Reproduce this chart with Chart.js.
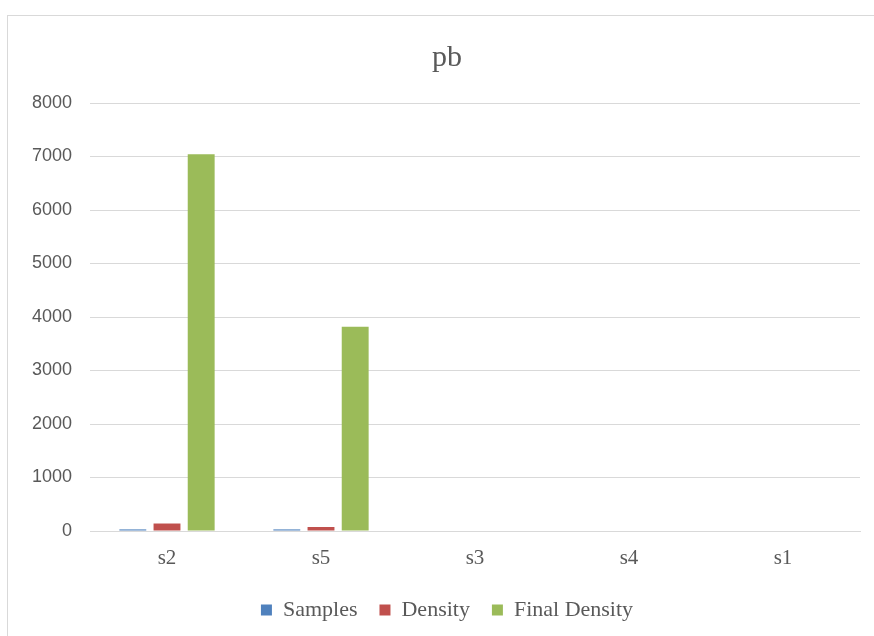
<!DOCTYPE html>
<html>
<head>
<meta charset="utf-8">
<script src="https://cdn.jsdelivr.net/npm/chart.js@4.4.1/dist/chart.umd.min.js"></script>
<style>
  html, body { margin: 0; padding: 0; overflow: hidden; background: #ffffff; }
  #frame {
    position: absolute; left: 7px; top: 15px; width: 900px; height: 640px;
    border: 1px solid #d9d9d9; box-sizing: border-box;
  }
  #chart { position: absolute; left: 0; top: 0; }
</style>
</head>
<body>
<div id="frame"></div>
<canvas id="chart" width="894" height="636"></canvas>
<script>
// Sample sites and measured values for lead (pb)
const categories = ['s2', 's5', 's3', 's4', 's1'];
const samples = [30, 30, 0, 0, 0];
const density = [140, 75, 0, 0, 0];
const finalDensity = [7040, 3820, 0, 0, 0];
const yTicks = [0, 1000, 2000, 3000, 4000, 5000, 6000, 7000, 8000];

const textGrey = '#595959';
const gridGrey = '#d9d9d9';
const serif = "'Liberation Serif', 'Times New Roman', serif";
const sans = "'Liberation Sans', Arial, sans-serif";

const barShape = { categoryPercentage: 0.666, barPercentage: 0.787 };

new Chart(document.getElementById('chart'), {
  type: 'bar',
  data: {
    labels: categories,
    datasets: [
      { label: 'Samples', data: samples, backgroundColor: '#4f81bd', ...barShape },
      { label: 'Density', data: density, backgroundColor: '#c0504d', ...barShape },
      { label: 'Final Density', data: finalDensity, backgroundColor: '#9bbb59', ...barShape }
    ]
  },
  options: {
    responsive: false,
    animation: false,
    layout: { padding: { top: 0, right: 0, bottom: 5, left: 0 } },
    plugins: {
      title: {
        display: true,
        text: 'pb',
        color: textGrey,
        font: { family: serif, size: 30, weight: 'normal', lineHeight: 1.2 },
        padding: { top: 40, bottom: 27 }
      },
      legend: {
        position: 'bottom',
        labels: {
          color: textGrey,
          font: { family: serif, size: 22 },
          boxWidth: 11,
          boxHeight: 11,
          padding: 22
        }
      },
      tooltip: { enabled: false }
    },
    scales: {
      x: {
        grid: { display: false },
        border: { display: true, color: gridGrey, width: 1 },
        ticks: { color: textGrey, font: { family: serif, size: 21 }, padding: 7 },
        afterFit: (scale) => { scale.height = 46; }
      },
      y: {
        min: 0,
        max: yTicks[yTicks.length - 1],
        afterBuildTicks: (scale) => { scale.ticks = yTicks.map(v => ({ value: v })); },
        grid: { color: gridGrey, lineWidth: 1, drawTicks: false },
        border: { display: false },
        ticks: {
          color: textGrey,
          font: { family: sans, size: 18 },
          padding: 18,
          callback: (v) => String(v)
        },
        afterFit: (scale) => { scale.width = 90; }
      },
      // empty right-hand gutter so the plot stops short of the frame edge
      gutter: {
        position: 'right',
        display: true,
        grid: { display: false, drawOnChartArea: false },
        border: { display: false },
        ticks: { display: false },
        afterFit: (scale) => { scale.width = 34; }
      }
    }
  }
});
</script>
</body>
</html>
